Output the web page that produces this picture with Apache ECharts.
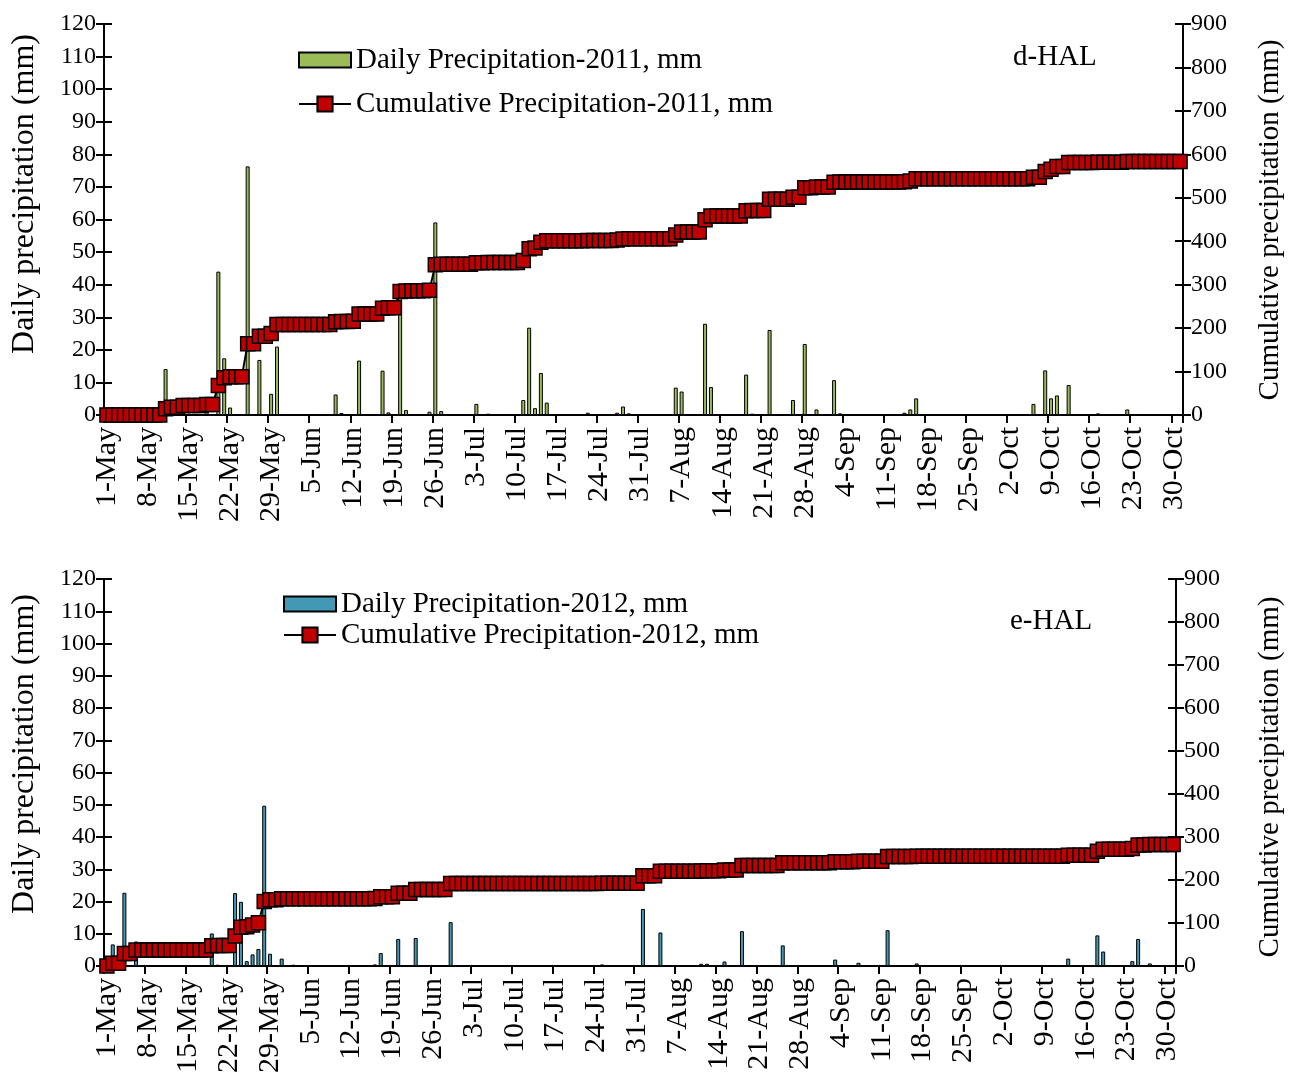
<!DOCTYPE html>
<html>
<head>
<meta charset="utf-8">
<script src="https://cdn.jsdelivr.net/npm/echarts@6/dist/echarts.min.js"></script>
<style>
html,body{margin:0;padding:0;background:#fff;}
#chart{width:1296px;height:1076px;}
</style>
</head>
<body>
<div id="chart"></div>
<script>
// ---------- DATA ----------
var monthNames = ['May','Jun','Jul','Aug','Sep','Oct'];
var monthDays  = [31, 30, 31, 31, 30, 31];
var categories = [];
for (var m = 0; m < monthNames.length; m++) {
  for (var d = 1; d <= monthDays[m]; d++) categories.push(d + '-' + monthNames[m]);
}

var leftTicks  = [0,10,20,30,40,50,60,70,80,90,100,110,120];
var rightTicks = [0,100,200,300,400,500,600,700,800,900];

// 2011 daily precipitation (mm), 1-May .. 31-Oct
var daily2011 = [
  // May
  0,0,0,0,0,0,0,0,0,0,
  14.1,3.5,0,4.5,0,0,0,2.0,0,44.0,
  17.4,2.3,0,0,76.3,0,16.9,0,6.5,21.0,
  0,
  // Jun
  0,0,0,0,0,0,0,0,6.3,0.6,
  0,0.2,16.7,0,0,0,13.6,0.8,0,37.5,
  1.5,0.2,0,0,1.0,59.1,1.2,0,0,0,
  // Jul
  0,0,3.4,0,0.4,0,0,0,0,0,
  4.6,26.8,2.1,12.9,3.8,0,0,0,0,0,
  0,0.7,0,0,0,0,0.7,2.6,0.5,0,0,
  // Aug
  0,0,0,0,0,8.4,7.2,0,0,0,
  28.0,8.6,0,0,0,0,0,12.4,0.4,0,
  0,26.1,0,0,0,4.6,0,21.8,0,1.7,0,
  // Sep
  0,10.7,0.5,0,0,0,0,0,0,0,
  0,0,0,0.7,1.7,5.1,0,0,0,0,
  0,0,0,0,0,0,0,0,0,0,
  // Oct
  0,0,0,0,0,3.4,0,13.7,5.1,6.0,
  0.2,9.2,0,0,0,0,0.5,0,0,0,
  0,1.7,0,0,0,0,0,0,0,0,0
];

// 2011 cumulative precipitation (mm)
var cumul2011 = [
  // May
  0,0,0,0,0,0,0,0,0,0,
  14.1,17.6,17.6,22.1,22.1,22.1,22.1,24.1,24.1,68.1,
  85.5,87.8,87.8,87.8,164.1,164.1,181.0,181.0,187.5,208.5,
  208.5,
  // Jun
  208.5,208.5,208.5,208.5,208.5,208.5,208.5,208.5,214.8,215.4,
  215.4,215.6,232.3,232.3,232.3,232.3,245.9,246.7,246.7,284.2,
  285.7,285.9,285.9,285.9,286.9,346.0,347.2,347.2,347.2,347.2,
  // Jul
  347.2,347.2,350.6,350.6,351.0,351.0,351.0,351.0,351.0,351.0,
  355.6,382.4,384.5,397.4,401.2,401.2,401.2,401.2,401.2,401.2,
  401.2,401.9,401.9,401.9,401.9,401.9,402.6,405.2,405.7,405.7,405.7,
  // Aug
  405.7,405.7,405.7,405.7,405.7,414.1,421.3,421.3,421.3,421.3,
  449.3,457.9,457.9,457.9,457.9,457.9,457.9,470.3,470.7,470.7,
  470.7,496.8,496.8,496.8,496.8,501.4,501.4,523.2,523.2,524.9,524.9,
  // Sep
  524.9,535.6,536.1,536.1,536.1,536.1,536.1,536.1,536.1,536.1,
  536.1,536.1,536.1,536.8,538.5,543.6,543.6,543.6,543.6,543.6,
  543.6,543.6,543.6,543.6,543.6,543.6,543.6,543.6,543.6,543.6,
  // Oct
  543.6,543.6,543.6,543.6,543.6,547.0,547.0,560.7,565.8,571.8,
  572.0,581.2,581.2,581.2,581.2,581.2,581.7,581.7,581.7,581.7,
  581.7,583.4,583.4,583.4,583.4,583.4,583.4,583.4,583.4,583.4,583.4
];

// 2012 daily precipitation (mm)
var daily2012 = [
  // May
  0,6.7,0,22.7,0,7.6,0,0,0,0,
  0,0,0,0,0,0,0,0,10.1,0.4,
  0,0,22.6,19.9,1.5,3.6,5.3,49.7,3.8,0,
  2.3,
  // Jun
  0,0.4,0,0,0,0,0,0,0,0,
  0,0,0,0,0,0.5,4.0,0,0,8.4,
  0,0,8.7,0,0,0,0,0,13.6,0,
  // Jul
  0,0,0,0,0,0,0,0,0,0,
  0,0,0,0,0,0,0,0,0,0,
  0,0,0,0,0.5,0,0,0,0,0,0,
  // Aug
  17.7,0,0,10.4,0,0,0,0,0,0,
  0.7,0.7,0,0,1.4,0,0,10.8,0,0,
  0,0,0,0,6.4,0,0,0,0,0,0,
  // Sep
  0,0,2.0,0,0,0,1.0,0,0,0,
  0,11.1,0,0,0,0,0.8,0,0,0,
  0,0,0,0,0,0,0,0,0,0,
  // Oct
  0,0,0,0,0,0,0,0,0,0,
  0,0,2.3,0,0,0,0,9.5,4.5,0,
  0,0,0,1.5,8.4,0,0.8,0,0,0,0
];

// 2012 cumulative precipitation (mm)
var cumul2012 = [
  // May
  0,6.7,6.7,29.4,29.4,37.0,37.0,37.0,37.0,37.0,
  37.0,37.0,37.0,37.0,37.0,37.0,37.0,37.0,47.1,47.5,
  47.5,47.5,70.1,90.0,91.5,95.1,100.4,150.1,153.9,153.9,
  156.2,
  // Jun
  156.2,156.6,156.6,156.6,156.6,156.6,156.6,156.6,156.6,156.6,
  156.6,156.6,156.6,156.6,156.6,157.1,161.1,161.1,161.1,169.5,
  169.5,169.5,178.2,178.2,178.2,178.2,178.2,178.2,191.8,191.8,
  // Jul
  191.8,191.8,191.8,191.8,191.8,191.8,191.8,191.8,191.8,191.8,
  191.8,191.8,191.8,191.8,191.8,191.8,191.8,191.8,191.8,191.8,
  191.8,191.8,191.8,191.8,192.3,192.3,192.3,192.3,192.3,192.3,192.3,
  // Aug
  210.0,210.0,210.0,220.4,220.4,220.4,220.4,220.4,220.4,220.4,
  221.1,221.8,221.8,221.8,223.2,223.2,223.2,234.0,234.0,234.0,
  234.0,234.0,234.0,234.0,240.4,240.4,240.4,240.4,240.4,240.4,240.4,
  // Sep
  240.4,240.4,242.4,242.4,242.4,242.4,243.4,243.4,243.4,243.4,
  243.4,254.5,254.5,254.5,254.5,254.5,255.3,255.3,255.3,255.3,
  255.3,255.3,255.3,255.3,255.3,255.3,255.3,255.3,255.3,255.3,
  // Oct
  255.3,255.3,255.3,255.3,255.3,255.3,255.3,255.3,255.3,255.3,
  255.3,255.3,257.6,257.6,257.6,257.6,257.6,267.1,271.6,271.6,
  271.6,271.6,271.6,273.1,281.5,281.5,282.3,282.3,282.3,282.3,282.3
];

var seriesNames = {
  d2011: 'Daily Precipitation-2011, mm',
  c2011: 'Cumulative Precipitation-2011, mm',
  d2012: 'Daily Precipitation-2012, mm',
  c2012: 'Cumulative Precipitation-2012, mm'
};
var panelTags = ['d-HAL', 'e-HAL'];
var leftTitle = 'Daily precipitation (mm)';
var rightTitle = 'Cumulative precipitation (mm)';

// ---------- STYLE ----------
var FONT = "'Liberation Serif','Times New Roman',serif";
var FS_Y = 24, FS_X = 30, FS_LEG = 29, FS_LT = 32, FS_RT = 29, FS_TAG = 29;
var GREEN = '#9BBB59';
var TEAL = '#4399B5';
var RED = '#C00000';

var grids = [
  {left: 104, top: 24, width: 1079, height: 391},
  {left: 104, top: 579, width: 1072, height: 388}
];

function xAxisFor(gi) {
  return {
    type: 'category', gridIndex: gi, data: categories, boundaryGap: true,
    axisLine: {lineStyle: {color: '#000', width: 2}},
    axisTick: {show: true, interval: 6, length: 8, inside: false, lineStyle: {color: '#000', width: 2}},
    axisLabel: {interval: 6, rotate: 90, margin: 12, color: '#000', fontFamily: FONT, fontSize: FS_X},
    splitLine: {show: false}
  };
}
function yAxisFor(gi, pos, max, interval, labels, inside) {
  return {
    type: 'value', gridIndex: gi, position: pos, min: 0, max: max, interval: interval,
    axisLine: {show: !inside, onZero: false, lineStyle: {color: '#000', width: 2}},
    axisTick: {show: true, inside: inside, length: 8, lineStyle: {color: '#000', width: 2}},
    axisLabel: {show: labels, margin: 8, color: '#000', fontFamily: FONT, fontSize: FS_Y,
      formatter: function (v) { return String(v); }},
    splitLine: {show: false}
  };
}
function legendItem(name, left, top, h, icon) {
  var item = {name: name};
  if (icon) item.icon = icon;
  return {
    orient: 'vertical', left: left, top: top, itemWidth: 52, itemHeight: h, itemGap: 0,
    textStyle: {fontFamily: FONT, fontSize: FS_LEG, color: '#000', lineHeight: 30},
    data: [item]
  };
}
function vtext(str, x, y, fs) {
  return {type: 'text', x: x, y: y, rotation: Math.PI/2,
    style: {text: str, font: fs + 'px ' + FONT, fill: '#000', textAlign: 'center', textVerticalAlign: 'middle'}};
}

var option = {
  animation: false,
  backgroundColor: '#fff',
  grid: grids,
  xAxis: [xAxisFor(0), xAxisFor(1)],
  yAxis: [
    yAxisFor(0, 'left', leftTicks[leftTicks.length-1], 10, true, false),
    yAxisFor(0, 'right', rightTicks[rightTicks.length-1], 100, true, false),
    yAxisFor(1, 'left', leftTicks[leftTicks.length-1], 10, true, false),
    yAxisFor(1, 'right', rightTicks[rightTicks.length-1], 100, true, false),
    yAxisFor(0, 'left', leftTicks[leftTicks.length-1], 10, false, true),
    yAxisFor(0, 'right', rightTicks[rightTicks.length-1], 100, false, true),
    yAxisFor(1, 'left', leftTicks[leftTicks.length-1], 10, false, true),
    yAxisFor(1, 'right', rightTicks[rightTicks.length-1], 100, false, true)
  ],
  legend: [
    legendItem(seriesNames.d2011, 293, 40, 15, 'rect'),
    legendItem(seriesNames.c2011, 293, 84, 19),
    legendItem(seriesNames.d2012, 278, 584, 15, 'rect'),
    legendItem(seriesNames.c2012, 278, 615, 19)
  ],
  graphic: [
    {type: 'text', left: 1013, top: 43, style: {text: panelTags[0], font: FS_TAG + 'px ' + FONT, fill: '#000'}},
    {type: 'text', left: 1010, top: 607, style: {text: panelTags[1], font: FS_TAG + 'px ' + FONT, fill: '#000'}},
    vtext(leftTitle, 25, 194, FS_LT),
    vtext(rightTitle, 1270, 220, FS_RT),
    vtext(leftTitle, 25, 754, FS_LT),
    vtext(rightTitle, 1270, 777, FS_RT)
  ],
  series: [
    {
      name: seriesNames.d2011, type: 'bar', xAxisIndex: 0, yAxisIndex: 0, data: daily2011,
      barWidth: 4, z: 2,
      itemStyle: {color: GREEN, borderColor: '#000', borderWidth: 1}
    },
    {
      name: seriesNames.c2011, type: 'line', xAxisIndex: 0, yAxisIndex: 1, data: cumul2011,
      symbol: 'rect', symbolSize: 14, showAllSymbol: true, z: 3,
      lineStyle: {color: '#000', width: 2},
      itemStyle: {color: RED, borderColor: '#000', borderWidth: 1.5}
    },
    {
      name: seriesNames.d2012, type: 'bar', xAxisIndex: 1, yAxisIndex: 2, data: daily2012,
      barWidth: 4, z: 2,
      itemStyle: {color: TEAL, borderColor: '#000', borderWidth: 1}
    },
    {
      name: seriesNames.c2012, type: 'line', xAxisIndex: 1, yAxisIndex: 3, data: cumul2012,
      symbol: 'rect', symbolSize: 14, showAllSymbol: true, z: 3,
      lineStyle: {color: '#000', width: 2},
      itemStyle: {color: RED, borderColor: '#000', borderWidth: 1.5}
    }
  ]
};

var chart = echarts.init(document.getElementById('chart'), null, {renderer: 'canvas'});
chart.setOption(option);
</script>
</body>
</html>
